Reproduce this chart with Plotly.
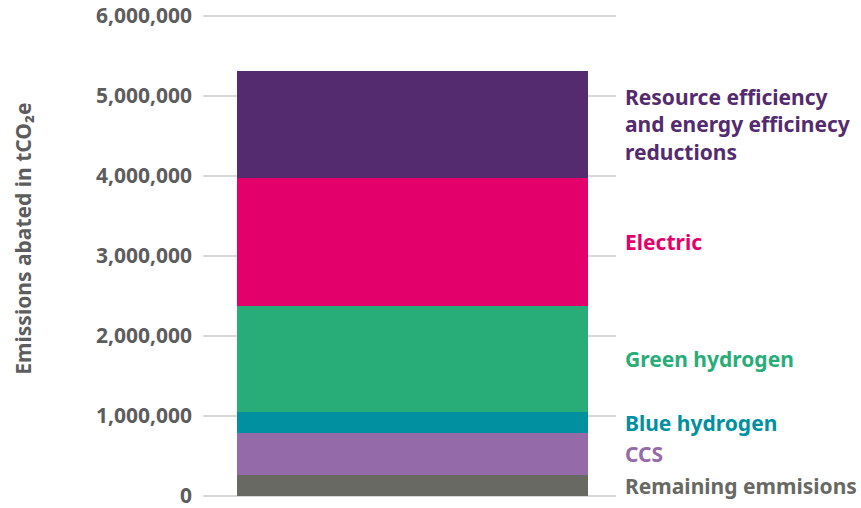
import plotly.graph_objects as go

categories = ["Total"]
series_names = ["Remaining emmisions", "CCS", "Blue hydrogen", "Green hydrogen", "Electric",
                "Resource efficiency<br>and energy efficinecy<br>reductions"]
series_values = [262500, 525000, 262500, 1325000, 1600000, 1337500]
series_colors = ["#686963", "#956aa9", "#0090a0", "#28ad79", "#e3006a", "#532b6e"]
tick_values = [0, 1000000, 2000000, 3000000, 4000000, 5000000, 6000000]
tick_labels = ["0", "1,000,000", "2,000,000", "3,000,000", "4,000,000", "5,000,000", "6,000,000"]

FONT = "Noto Sans"
GRAY = "#5d5d5d"

fig = go.Figure()
for name, val, col in zip(series_names, series_values, series_colors):
    fig.add_trace(go.Bar(x=categories, y=[val], name=name, marker=dict(color=col, line=dict(width=0)),
                         width=0.85, hoverinfo="skip"))

annotations = []
cum = 0
for name, val, col in zip(series_names, series_values, series_colors):
    mid = cum + val / 2
    cum += val
    annotations.append(dict(x=1, xref="paper", xanchor="left", xshift=7, y=mid, yref="y", yanchor="middle",
                            text="<b>" + name + "</b>", showarrow=False, align="left",
                            font=dict(family=FONT, size=21, color=col)))
annotations.append(dict(x=-0.438, xref="paper", xanchor="center", y=0.536, yref="paper", yanchor="middle",
                        text="<b>Emissions abated in tCO₂e</b>", textangle=-90, showarrow=False,
                        font=dict(family=FONT, size=21, color=GRAY)))

fig.update_layout(
    width=861, height=508,
    margin=dict(l=203, r=245, t=14, b=10),
    barmode="stack",
    showlegend=False,
    plot_bgcolor="white", paper_bgcolor="white",
    annotations=annotations,
    xaxis=dict(showticklabels=False, showgrid=False, zeroline=False, showline=False,
               range=[-0.507, 0.493], automargin=False),
    yaxis=dict(range=[-25000, 6025000], tickvals=tick_values, ticktext=["<b>" + t + "</b>" for t in tick_labels],
               showgrid=True, gridcolor="#d9d9d9", gridwidth=2, zeroline=False, showline=False,
               ticks="", ticklabelstandoff=10, automargin=False, ticklabeloverflow="allow",
               tickfont=dict(family=FONT, size=21, color=GRAY)),
)

fig.write_html("out.html")
